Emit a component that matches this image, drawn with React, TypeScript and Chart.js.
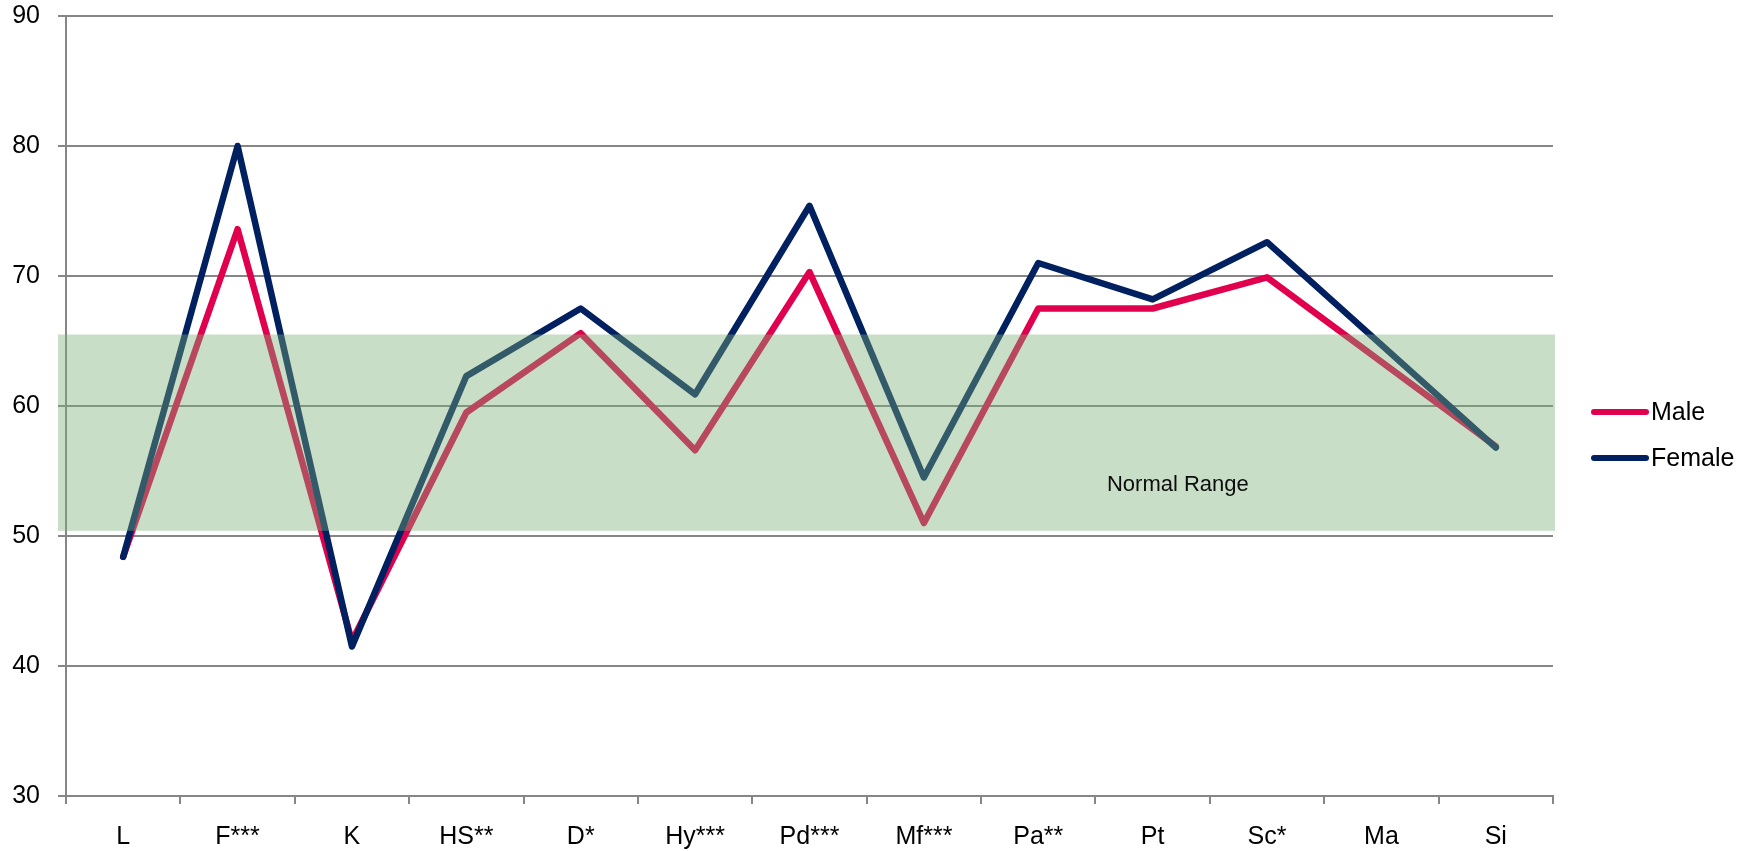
import React, { useEffect, useRef } from "react";
import { Chart, registerables } from "chart.js";

Chart.register(...registerables);

const categories = ["L", "F***", "K", "HS**", "D*", "Hy***", "Pd***", "Mf***", "Pa**", "Pt", "Sc*", "Ma", "Si"];
const maleValues: (number | null)[] = [48.4, 73.6, 41.9, 59.5, 65.6, 56.6, 70.3, 51.0, 67.5, 67.5, 69.9, null, 56.9];
const femaleValues: (number | null)[] = [48.4, 80.0, 41.5, 62.3, 67.5, 60.9, 75.4, 54.5, 71.0, 68.2, 72.6, null, 56.8];
const yTicks = [30, 40, 50, 60, 70, 80, 90];
const normalRange = [50.4, 65.5];
const normalRangeLabel = "Normal Range";

const FONT = '"Liberation Sans", Arial, sans-serif';
const MALE_COLOR = "#E0004D";
const FEMALE_COLOR = "#002060";
const GRID = "#868686";

const bandPlugin = {
  id: "normalBand",
  afterDatasetsDraw(chart: any) {
    const { ctx, chartArea, scales } = chart;
    const y = scales.y;
    const top = y.getPixelForValue(normalRange[1]);
    const bottom = y.getPixelForValue(normalRange[0]);
    ctx.save();
    ctx.fillStyle = "rgba(124,174,120,0.41)";
    ctx.fillRect(chartArea.left - 8, top, chartArea.right + 2 - (chartArea.left - 8), bottom - top);
    ctx.fillStyle = "#0d0d0d";
    ctx.font = `22px ${FONT}`;
    ctx.textAlign = "center";
    ctx.textBaseline = "middle";
    const x = scales.x;
    const tx = (x.getPixelForValue(9) + x.getPixelForValue(10)) / 2 - 32;
    ctx.fillText(normalRangeLabel, tx, y.getPixelForValue(53.9));
    ctx.restore();
  },
};

const legendPlugin = {
  id: "customLegend",
  afterDraw(chart: any) {
    const { ctx, chartArea } = chart;
    const items = [
      { label: "Male", color: MALE_COLOR },
      { label: "Female", color: FEMALE_COLOR },
    ];
    const x0 = chartArea.right + 38;
    const y0 = 412;
    ctx.save();
    ctx.font = `25px ${FONT}`;
    ctx.textBaseline = "middle";
    ctx.textAlign = "left";
    items.forEach((it, i) => {
      const yy = y0 + i * 46;
      ctx.strokeStyle = it.color;
      ctx.lineWidth = 6;
      ctx.lineCap = "round";
      ctx.beginPath();
      ctx.moveTo(x0 + 3, yy);
      ctx.lineTo(x0 + 55, yy);
      ctx.stroke();
      ctx.fillStyle = "#000";
      ctx.fillText(it.label, x0 + 60, yy + 1);
    });
    ctx.restore();
  },
};

export default function App() {
  const ref = useRef<HTMLCanvasElement | null>(null);
  useEffect(() => {
    document.body.style.margin = "0";
    const canvas = ref.current!;
    const chart = new Chart(canvas, {
      type: "line",
      data: {
        labels: categories,
        datasets: [
          {
            label: "Male",
            data: maleValues,
            borderColor: MALE_COLOR,
            backgroundColor: MALE_COLOR,
            borderWidth: 6.5,
            pointRadius: 0,
            tension: 0,
            spanGaps: true,
            borderCapStyle: "round",
            borderJoinStyle: "round",
            order: 1,
          },
          {
            label: "Female",
            data: femaleValues,
            borderColor: FEMALE_COLOR,
            backgroundColor: FEMALE_COLOR,
            borderWidth: 6.5,
            pointRadius: 0,
            tension: 0,
            spanGaps: true,
            borderCapStyle: "round",
            borderJoinStyle: "round",
            order: 0,
          },
        ],
      },
      options: {
        animation: false,
        responsive: false,
        maintainAspectRatio: false,
        layout: { padding: { top: 16, right: 199, bottom: 0, left: 0 } },
        plugins: {
          legend: { display: false },
          tooltip: { enabled: false },
        },
        scales: {
          x: {
            offset: true,
            grid: {
              display: true,
              drawOnChartArea: false,
              drawTicks: true,
              offset: true,
              tickLength: 8,
              color: GRID,
              lineWidth: 2,
            },
            border: { display: true, color: GRID, width: 2 },
            ticks: {
              color: "#000",
              font: { family: FONT, size: 25 },
              padding: 18,
              maxRotation: 0,
              autoSkip: false,
            },
            afterFit(scale: any) {
              scale.height = 55;
              scale.paddingLeft = 0;
              scale.paddingRight = 0;
            },
          },
          y: {
            min: 30,
            max: 90,
            afterBuildTicks(scale: any) {
              scale.ticks = yTicks.map((v) => ({ value: v }));
            },
            grid: {
              color: GRID,
              lineWidth: 2,
              tickLength: 8,
              drawTicks: true,
            },
            border: { display: true, color: GRID, width: 2 },
            ticks: {
              color: "#000",
              font: { family: FONT, size: 25 },
              padding: 18,
            },
            afterFit(scale: any) {
              scale.width = 66;
              scale.paddingTop = 0;
              scale.paddingBottom = 0;
            },
          },
        },
      },
      plugins: [bandPlugin, legendPlugin],
    });
    return () => chart.destroy();
  }, []);
  return (
    <div style={{ width: 1752, height: 851 }}>
      <canvas ref={ref} width={1752} height={851} style={{ display: "block", width: 1752, height: 851 }} />
    </div>
  );
}
